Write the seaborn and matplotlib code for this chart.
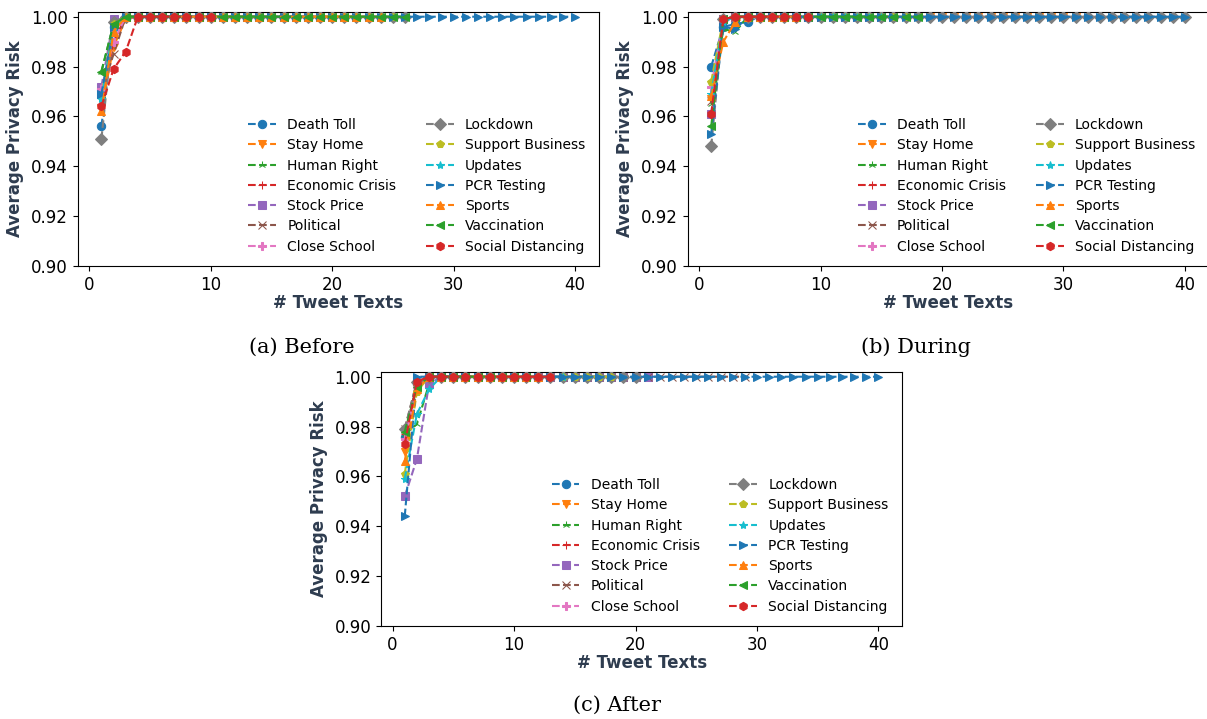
import matplotlib
matplotlib.use("Agg")
import matplotlib.pyplot as plt
import seaborn as sns
import numpy as np

# ---------------- data ----------------
topics = ["Death Toll", "Stay Home", "Human Right", "Economic Crisis", "Stock Price",
          "Political", "Close School", "Lockdown", "Support Business", "Updates",
          "PCR Testing", "Sports", "Vaccination", "Social Distancing"]

# early (non-saturated) values for each topic, x = 1, 2, 3, ...
before_head = {
    "Death Toll": [0.956, 0.996],
    "Stay Home": [0.963, 0.988, 0.999],
    "Human Right": [0.978, 0.997],
    "Economic Crisis": [0.965, 0.990],
    "Stock Price": [0.972, 0.999],
    "Political": [0.970, 0.985],
    "Close School": [0.971, 0.990],
    "Lockdown": [0.951, 0.998],
    "Support Business": [0.968, 0.997],
    "Updates": [0.967, 0.996],
    "PCR Testing": [0.969, 0.996],
    "Sports": [0.962, 0.994],
    "Vaccination": [0.978, 0.997],
    "Social Distancing": [0.964, 0.979, 0.986],
}
# number of tweet texts (last x) for each topic
before_len = [12, 20, 15, 9, 18, 22, 14, 26, 25, 16, 40, 24, 26, 10]

during_head = {
    "Death Toll": [0.980, 0.996, 0.997, 0.998],
    "Stay Home": [0.967, 0.999],
    "Human Right": [0.965, 0.995, 0.994],
    "Economic Crisis": [0.960, 0.999],
    "Stock Price": [0.961, 0.999],
    "Political": [0.966, 0.999],
    "Close School": [0.972, 0.999],
    "Lockdown": [0.948, 0.999],
    "Support Business": [0.974, 0.999],
    "Updates": [0.969, 0.998],
    "PCR Testing": [0.953, 0.996, 0.995],
    "Sports": [0.968, 0.990, 0.998],
    "Vaccination": [0.956, 0.999],
    "Social Distancing": [0.961, 0.999],
}
during_len = [9, 31, 14, 8, 16, 10, 13, 40, 17, 15, 40, 8, 18, 9]

after_head = {
    "Death Toll": [0.976, 0.997],
    "Stay Home": [0.970, 0.995],
    "Human Right": [0.977, 0.981, 0.997],
    "Economic Crisis": [0.977, 0.996],
    "Stock Price": [0.952, 0.967, 0.997],
    "Political": [0.979, 0.998],
    "Close School": [0.975, 0.996],
    "Lockdown": [0.979, 0.998],
    "Support Business": [0.961, 0.994],
    "Updates": [0.959, 0.985, 0.995],
    "PCR Testing": [0.944, 1.000],
    "Sports": [0.966, 0.995],
    "Vaccination": [0.978, 0.996],
    "Social Distancing": [0.973, 0.998],
}
after_len = [12, 10, 9, 8, 21, 29, 11, 20, 18, 14, 40, 12, 11, 13]

plateau = 1.000  # saturated privacy risk

markers = ["o", "v", "2", "+", "s", "x", "P", "D", "p", "*", ">", "^", "<", "h"]
palette = sns.color_palette("tab10", 10)
colors = [palette[i % 10] for i in range(len(topics))]

x_ticks = [0, 10, 20, 30, 40]
y_ticks = [0.90, 0.92, 0.94, 0.96, 0.98, 1.00]

panels = [
    ("(a) Before", before_head, before_len, [0.0644, 0.630, 0.4317, 0.3537], (302, 347)),
    ("(b) During", during_head, during_len, [0.5696, 0.630, 0.4317, 0.3537], (916, 347)),
    ("(c) After", after_head, after_len, [0.3157, 0.1293, 0.4317, 0.3537], (617, 705)),
]

label_color = "#2e3c4f"

fig = plt.figure(figsize=(12.07, 7.19), dpi=100)

for caption, head, lengths, rect, cap_xy in panels:
    ax = fig.add_axes(rect)
    for i, t in enumerate(topics):
        vals = head[t] + [plateau] * (lengths[i] - len(head[t]))
        xs = np.arange(1, lengths[i] + 1)
        sns.lineplot(x=xs, y=vals, ax=ax, color=colors[i], marker=markers[i],
                     linestyle="--", linewidth=1.5, markersize=6,
                     markeredgecolor=colors[i], label=t, zorder=2 + i)
    ax.set_xlim(-0.95, 41.95)
    ax.set_ylim(0.90, 1.002)
    ax.set_xticks(x_ticks)
    ax.set_yticks(y_ticks)
    ax.set_yticklabels([f"{v:.2f}" for v in y_ticks])
    ax.tick_params(labelsize=12)
    ax.set_xlabel("# Tweet Texts", fontsize=12, fontweight="bold", color=label_color, labelpad=0)
    ax.set_ylabel("Average Privacy Risk", fontsize=12, fontweight="bold", color=label_color, labelpad=5)
    ax.legend(ncol=2, loc="lower right", frameon=False, fontsize=10,
              handlelength=2.0, labelspacing=0.45, columnspacing=2.15,
              bbox_to_anchor=(0.998, 0.0))
    fig.text(cap_xy[0] / 1207, 1 - cap_xy[1] / 719, caption, ha="center", va="center",
             fontsize=15, family="DejaVu Serif")

fig.savefig("out.png", dpi=100)
